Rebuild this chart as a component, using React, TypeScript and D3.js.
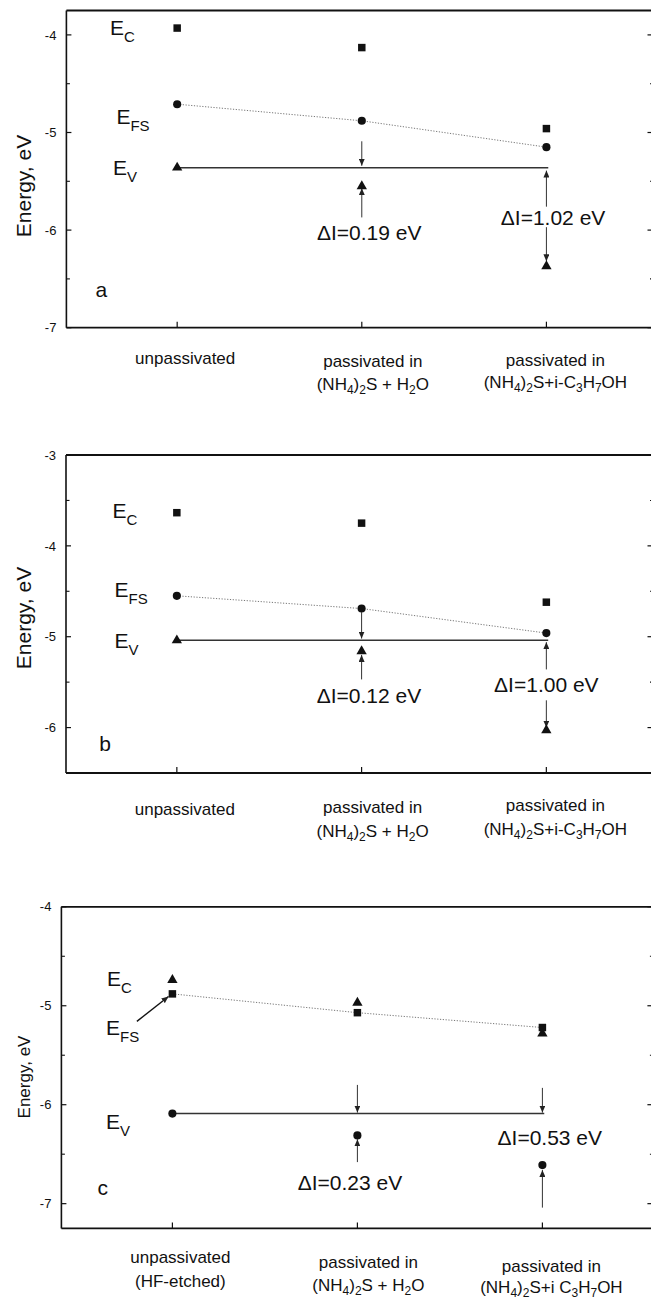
import * as d3 from 'd3';

const W = 651;
const H = 1299;
const FONT = '"Liberation Sans", Arial, Helvetica, sans-serif';

// ---- data (energies in eV) ----
const categories = [1, 2, 3];
const catLabelsAB = [
  ['unpassivated'],
  ['passivated in', '(NH_4)_2S + H_2O'],
  ['passivated in', '(NH_4)_2S+i-C_3H_7OH'],
];
const catLabelsC = [
  ['unpassivated', '(HF-etched)'],
  ['passivated in', '(NH_4)_2S + H_2O'],
  ['passivated in', '(NH_4)_2S+i C_3H_7OH'],
];

const yTicksA = [-7, -6, -5, -4];
const yTicksB = [-6, -5, -4, -3];
const yTicksC = [-7, -6, -5, -4];

const ecA = [-3.93, -4.13, -4.96];
const efsA = [-4.71, -4.88, -5.15];
const evA = [-5.36, -5.55, -6.37];

const ecB = [-3.635, -3.75, -4.62];
const efsB = [-4.55, -4.69, -4.96];
const evB = [-5.04, -5.16, -6.03];

const ecC = [-4.74, -4.97, -5.28];
const efsC = [-4.88, -5.07, -5.22];
const evC = [-6.09, -6.31, -6.61];

const deltaA = ['ΔI=0.19 eV', 'ΔI=1.02 eV'];
const deltaB = ['ΔI=0.12 eV', 'ΔI=1.00 eV'];
const deltaC = ['ΔI=0.23 eV', 'ΔI=0.53 eV'];

// arrows: category, start energy, tip energy
const arrowsA = [
  { x: 2, from: -5.09, to: -5.34 },
  { x: 2, from: -5.87, to: -5.57 },
  { x: 3, from: -5.76, to: -5.39 },
  { x: 3, from: -5.97, to: -6.32 },
];
const arrowsB = [
  { x: 2, from: -4.73, to: -5.02 },
  { x: 2, from: -5.47, to: -5.2 },
  { x: 3, from: -5.36, to: -5.06 },
  { x: 3, from: -5.7, to: -6.0 },
];
const arrowsC = [
  { x: 2, from: -5.8, to: -6.08 },
  { x: 2, from: -6.58, to: -6.35 },
  { x: 3, from: -5.83, to: -6.08 },
  { x: 3, from: -7.04, to: -6.66 },
];

type Shape = 'square' | 'circle' | 'triangle';

interface PanelCfg {
  id: string;
  top: number;
  bottom: number;
  left: number;
  right: number;
  xDomain: [number, number];
  yDomain: [number, number];
  yTicks: number[];
  ec: number[];
  efs: number[];
  ev: number[];
  shapes: { ec: Shape; efs: Shape; ev: Shape };
  arrows: { x: number; from: number; to: number }[];
  delta: string[];
  deltaPos: [number, number][];
  ePos: { ec: [number, number]; efs: [number, number]; ev: [number, number] };
  letter: string;
  letterPos: [number, number];
  catLabels: string[][];
  catDy: number[][];
  titleX: number;
  titleY: number;
  titleSize: number;
  pointer?: { from: [number, number]; to: [number, number] };
}

const panels: PanelCfg[] = [
  {
    id: 'a', top: 10.5, bottom: 327.7, left: 66.4, right: 653.5,
    xDomain: [0.4, 3.58], yDomain: [-7, -3.75], yTicks: yTicksA,
    ec: ecA, efs: efsA, ev: evA,
    shapes: { ec: 'square', efs: 'circle', ev: 'triangle' },
    arrows: arrowsA, delta: deltaA,
    deltaPos: [[2.04, -6.1], [3.036, -5.95]],
    ePos: { ec: [0.636, -4.0], efs: [0.671, -4.915], ev: [0.652, -5.44] },
    letter: 'a', letterPos: [0.557, -6.69],
    catLabels: catLabelsAB, catDy: [[36], [39, 62], [38, 60]],
    titleX: 31, titleY: 186, titleSize: 21,
  },
  {
    id: 'b', top: 455, bottom: 773, left: 66, right: 653.5,
    xDomain: [0.4, 3.58], yDomain: [-6.5, -3], yTicks: yTicksB,
    ec: ecB, efs: efsB, ev: evB,
    shapes: { ec: 'square', efs: 'circle', ev: 'triangle' },
    arrows: arrowsB, delta: deltaB,
    deltaPos: [[2.04, -5.73], [3.0, -5.61]],
    ePos: { ec: [0.652, -3.69], efs: [0.663, -4.56], ev: [0.663, -5.125] },
    letter: 'b', letterPos: [0.58, -6.26],
    catLabels: catLabelsAB, catDy: [[42], [40, 64], [38, 62]],
    titleX: 31, titleY: 618, titleSize: 21,
  },
  {
    id: 'c', top: 906.8, bottom: 1228.4, left: 61.4, right: 653.4,
    xDomain: [0.4, 3.6], yDomain: [-7.25, -4], yTicks: yTicksC,
    ec: ecC, efs: efsC, ev: evC,
    shapes: { ec: 'triangle', efs: 'square', ev: 'circle' },
    arrows: arrowsC, delta: deltaC,
    deltaPos: [[1.96, -6.86], [3.04, -6.41]],
    ePos: { ec: [0.646, -4.805], efs: [0.641, -5.3], ev: [0.641, -6.25] },
    letter: 'c', letterPos: [0.595, -6.91],
    catLabels: catLabelsC, catDy: [[35, 59], [40, 63], [44, 65]],
    titleX: 30, titleY: 1077, titleSize: 17,
    pointer: { from: [0.808, -5.158], to: [0.979, -4.906] },
  },
];

const catShift = [8, 11, 9];

function parseRich(s: string) {
  const parts: { t: string; sub: boolean }[] = [];
  let buf = '';
  let i = 0;
  while (i < s.length) {
    if (s[i] === '_') {
      if (buf) { parts.push({ t: buf, sub: false }); buf = ''; }
      if (s[i + 1] === '{') {
        const j = s.indexOf('}', i);
        parts.push({ t: s.slice(i + 2, j), sub: true });
        i = j + 1;
      } else {
        parts.push({ t: s[i + 1], sub: true });
        i += 2;
      }
    } else {
      buf += s[i];
      i++;
    }
  }
  if (buf) parts.push({ t: buf, sub: false });
  return parts;
}

function Rich({ text, x, y, size, subSize, drop, anchor = 'start' }: {
  text: string; x: number; y: number; size: number; subSize: number; drop: number; anchor?: string;
}) {
  const parts = parseRich(text);
  return (
    <text x={x} y={y} fontSize={size} textAnchor={anchor} fill="#111">
      {parts.map((p, i) => {
        const prevSub = i > 0 && parts[i - 1].sub;
        const dy = p.sub && !prevSub ? drop : !p.sub && prevSub ? -drop : 0;
        return (
          <tspan key={i} dy={dy} fontSize={p.sub ? subSize : size}>{p.t}</tspan>
        );
      })}
    </text>
  );
}

function symbolPath(shape: Shape) {
  const type = shape === 'square' ? d3.symbolSquare : shape === 'circle' ? d3.symbolCircle : d3.symbolTriangle;
  const size = shape === 'square' ? 56 : shape === 'circle' ? 52 : 46;
  return d3.symbol().type(type).size(size)() as string;
}

function Panel({ cfg }: { cfg: PanelCfg }) {
  const x = d3.scaleLinear().domain(cfg.xDomain).range([cfg.left, cfg.right]);
  const y = d3.scaleLinear().domain(cfg.yDomain).range([cfg.bottom, cfg.top]);

  const minor = d3.range(Math.ceil(cfg.yDomain[0] * 2) / 2, cfg.yDomain[1] + 0.001, 0.5)
    .filter(v => Math.abs(v - Math.round(v)) > 0.01);

  const efsLine = d3.line<number>()
    .x((_, i) => x(categories[i]))
    .y(d => y(d))(cfg.efs) as string;

  const series: { vals: number[]; shape: Shape }[] = [
    { vals: cfg.ec, shape: cfg.shapes.ec },
    { vals: cfg.efs, shape: cfg.shapes.efs },
    { vals: cfg.ev, shape: cfg.shapes.ev },
  ];

  return (
    <g>
      {/* frame */}
      <line x1={cfg.left} x2={cfg.right} y1={cfg.top} y2={cfg.top} stroke="#111" strokeWidth={1.8} />
      <line x1={cfg.left} x2={cfg.right} y1={cfg.bottom} y2={cfg.bottom} stroke="#111" strokeWidth={1.8} />
      <line x1={cfg.left} x2={cfg.left} y1={cfg.top} y2={cfg.bottom} stroke="#111" strokeWidth={1.6} />
      <line x1={cfg.right} x2={cfg.right} y1={cfg.top} y2={cfg.bottom} stroke="#111" strokeWidth={1.6} />

      {/* y ticks */}
      {cfg.yTicks.map(t => (
        <g key={'t' + t}>
          <line x1={cfg.left} x2={cfg.left + 5} y1={y(t)} y2={y(t)} stroke="#111" strokeWidth={1.2} />
          <line x1={cfg.right - 6} x2={cfg.right} y1={y(t)} y2={y(t)} stroke="#111" strokeWidth={1.2} />
          <text x={cfg.left - 10} y={y(t)} dy="0.36em" textAnchor="end" fontSize={13} fill="#111">{t}</text>
        </g>
      ))}
      {minor.map(t => (
        <g key={'m' + t}>
          <line x1={cfg.left} x2={cfg.left + 3.5} y1={y(t)} y2={y(t)} stroke="#111" strokeWidth={1.1} />
          <line x1={cfg.right - 3.5} x2={cfg.right} y1={y(t)} y2={y(t)} stroke="#111" strokeWidth={1.1} />
        </g>
      ))}

      {/* x ticks + category labels */}
      {categories.map((c, i) => (
        <g key={'c' + c}>
          <line x1={x(c)} x2={x(c)} y1={cfg.bottom} y2={cfg.bottom - 6} stroke="#111" strokeWidth={1.2} />
          {cfg.catLabels[i].map((lab, j) => (
            <Rich key={j} text={lab} x={x(c) + catShift[i]} y={cfg.bottom + cfg.catDy[i][j]}
              size={17} subSize={12} drop={4} anchor="middle" />
          ))}
        </g>
      ))}

      {/* axis title */}
      <text transform={`translate(${cfg.titleX},${cfg.titleY}) rotate(-90)`} textAnchor="middle"
        fontSize={cfg.titleSize} fill="#111">Energy, eV</text>

      {/* E_FS dotted line and E_V reference line */}
      <path d={efsLine} fill="none" stroke="#777" strokeWidth={1} strokeDasharray="1.2,1.6" />
      <line x1={x(1)} x2={x(3.01)} y1={y(cfg.ev[0])} y2={y(cfg.ev[0])} stroke="#333" strokeWidth={1.5} />

      {/* arrows */}
      {cfg.arrows.map((a, i) => (
        <line key={'a' + i} x1={x(a.x)} x2={x(a.x)} y1={y(a.from)} y2={y(a.to)}
          stroke="#333" strokeWidth={1} markerEnd="url(#ah)" />
      ))}
      {cfg.pointer && (
        <line x1={x(cfg.pointer.from[0])} y1={y(cfg.pointer.from[1])}
          x2={x(cfg.pointer.to[0])} y2={y(cfg.pointer.to[1])}
          stroke="#111" strokeWidth={1.4} markerEnd="url(#ah)" />
      )}

      {/* markers */}
      {series.map((s, si) => s.vals.map((v, i) => (
        <path key={si + '-' + i} d={symbolPath(s.shape)}
          transform={`translate(${x(categories[i])},${y(v)})`} fill="#111" />
      )))}

      {/* level labels */}
      <Rich text="E_C" x={x(cfg.ePos.ec[0])} y={y(cfg.ePos.ec[1])} size={21} subSize={15} drop={7} />
      <Rich text="E_{FS}" x={x(cfg.ePos.efs[0])} y={y(cfg.ePos.efs[1])} size={21} subSize={15} drop={7} />
      <Rich text="E_V" x={x(cfg.ePos.ev[0])} y={y(cfg.ePos.ev[1])} size={21} subSize={15} drop={7} />

      {cfg.delta.map((d, i) => (
        <text key={'d' + i} x={x(cfg.deltaPos[i][0])} y={y(cfg.deltaPos[i][1])} textAnchor="middle"
          fontSize={21} fill="#111">{d}</text>
      ))}

      <text x={x(cfg.letterPos[0])} y={y(cfg.letterPos[1])} fontSize={21} fill="#111">{cfg.letter}</text>
    </g>
  );
}

export default function App() {
  return (
    <div>
      <style>{'body{margin:0;}'}</style>
      <svg width={W} height={H} style={{ display: 'block', background: '#fff', fontFamily: FONT }}>
        <defs>
          <marker id="ah" markerUnits="userSpaceOnUse" viewBox="0 0 7 6" refX={7} refY={3}
            markerWidth={7} markerHeight={6} orient="auto">
            <path d="M0,0 L7,3 L0,6 Z" fill="#222" />
          </marker>
        </defs>
        <rect width={W} height={H} fill="#fff" />
        {panels.map(p => <Panel key={p.id} cfg={p} />)}
      </svg>
    </div>
  );
}
